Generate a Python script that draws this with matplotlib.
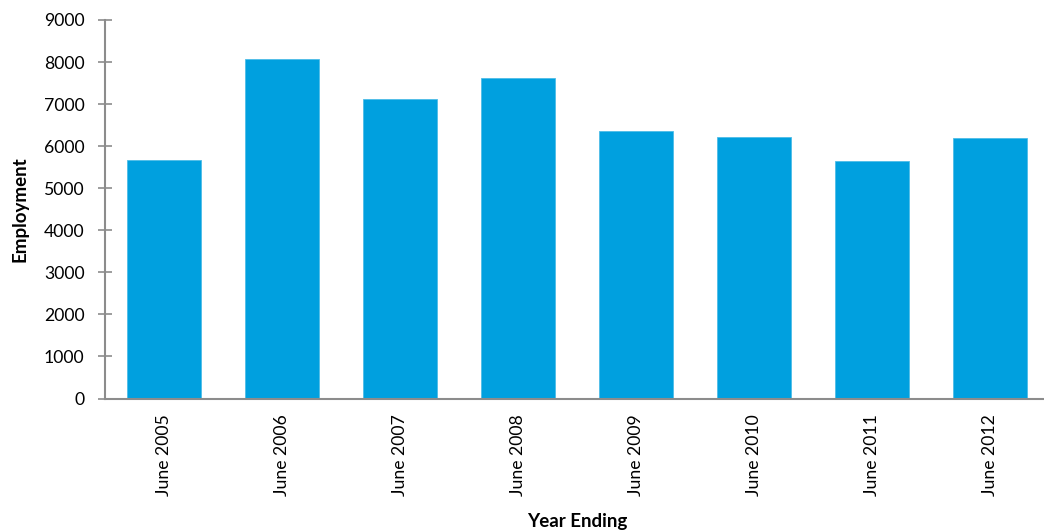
import matplotlib
matplotlib.use("Agg")
import matplotlib.pyplot as plt
import numpy as np

categories = ["June 2005", "June 2006", "June 2007", "June 2008",
              "June 2009", "June 2010", "June 2011", "June 2012"]
employment = [5670, 8065, 7120, 7615, 6360, 6210, 5650, 6190]
yticks = [0, 1000, 2000, 3000, 4000, 5000, 6000, 7000, 8000, 9000]

plt.rcParams['font.family'] = ['Lato', 'DejaVu Sans']

W, H = 1044, 532
fig = plt.figure(figsize=(W / 100, H / 100), dpi=100)
ax = fig.add_axes([105 / W, (H - 398.5) / H, 944 / W, (398.5 - 20) / H])

x = np.arange(len(categories))
ax.bar(x, employment, width=0.63, color='#00A0DF', edgecolor='#4DBDE8', linewidth=0.6)

ax.set_xlim(-0.5, len(categories) - 0.5)
ax.set_ylim(0, 9000)
ax.set_yticks(yticks)
ax.set_yticklabels([str(v) for v in yticks], fontsize=12.7, color='#000000')
ax.set_xticks(x)
ax.set_xticklabels(categories, rotation=90, fontsize=12.7, color='#000000')

grey = '#8C8C8C'
for s in ['top', 'right']:
    ax.spines[s].set_visible(False)
for s in ['left', 'bottom']:
    ax.spines[s].set_color(grey)
    ax.spines[s].set_linewidth(1.5)
ax.tick_params(axis='y', direction='inout', length=9.5, width=1.2, color=grey, pad=10)
ax.tick_params(axis='x', length=0, pad=11)

ax.set_ylabel("Employment", fontsize=13.5, fontweight='bold')
ax.yaxis.set_label_coords(-76 / 944, 0.5)
fig.text(577 / W, 1 - 521 / H, "Year Ending", fontsize=13.5, fontweight='bold',
         ha='center', va='center')

fig.savefig("out.png", dpi=100)
